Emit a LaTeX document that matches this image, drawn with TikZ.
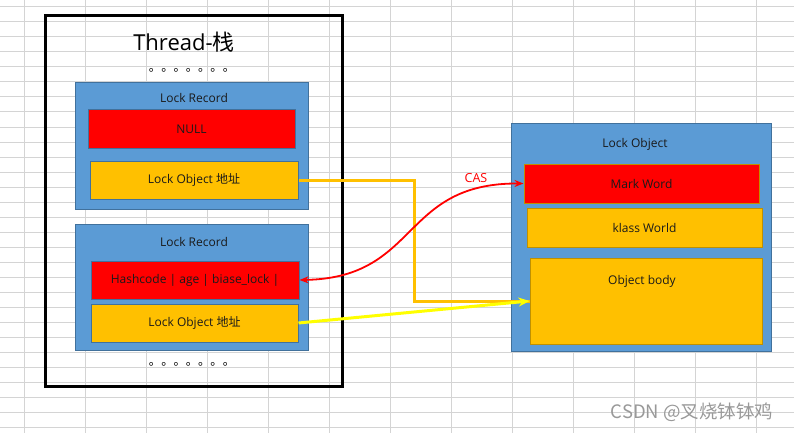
\documentclass[tikz,border=0pt]{standalone}
\usepackage{fontspec}
\setmainfont{Open Sans}
\newfontfamily\cjk{Noto Sans CJK SC}
\usetikzlibrary{arrows.meta}
\definecolor{cblue}{HTML}{5B9BD5}
\definecolor{cblueb}{HTML}{41719C}
\definecolor{cred}{HTML}{FF0000}
\definecolor{cyel}{HTML}{FFC000}
\definecolor{cbrown}{HTML}{BF9000}
\definecolor{cgrid}{HTML}{D4D4D4}
\definecolor{cyline}{HTML}{FFFF00}
\definecolor{ctext}{HTML}{1A1A1A}
\tikzset{
  box/.style={draw, line width=1pt, inner sep=0pt, text=ctext, font=\fontsize{12}{14}\selectfont},
  recbox/.style={box, fill=cblue, draw=cblueb},
  lredbox/.style={box, fill=cred, draw=cblueb},
  lyelbox/.style={box, fill=cyel, draw=cblueb},
  rredbox/.style={box, fill=cred, draw=cbrown},
  ryelbox/.style={box, fill=cyel, draw=cbrown},
  lbl/.style={inner sep=0pt, text=ctext, font=\fontsize{12}{14}\selectfont},
  dotsrow/.style={inner sep=0pt, font=\cjk\fontsize{12.3}{13}\selectfont},
}
\begin{document}
\begin{tikzpicture}[x=1pt,y=-1pt]
\useasboundingbox (0,0) rectangle (794,433);
\fill[white] (0,0) rectangle (794,433);
% grid
\foreach \x in {24,85,...,756} \draw[cgrid, line width=1pt] (\x,0) -- (\x,433);
\foreach \y in {7,22,...,427} \draw[cgrid, line width=1pt] (0,\y) -- (794,\y);

% thread stack
\node[draw=black, line width=3pt, minimum width=297pt, minimum height=370pt, inner sep=0pt] (thread) at (193.5,201) {};
\node[inner sep=0pt, font=\fontsize{22}{24}\selectfont] (title) at (184,42) {Thread-{\cjk 栈}};
\node[dotsrow] (dots1) at (192,70) {。。。。。。。};
\node[dotsrow] (dots2) at (192,364) {。。。。。。。};

\node[recbox, minimum width=233pt, minimum height=126pt] (lr1) at (191.5,146) {};
\node[lbl] (lr1l) at (194,98) {Lock Record};
\node[lredbox, minimum width=207pt, minimum height=38pt] (null) at (191.5,129) {NULL};
\node[lyelbox, minimum width=208pt, minimum height=38pt] (lo1) at (194,180) {Lock Object {\cjk 地址}};

\node[recbox, minimum width=233pt, minimum height=126pt] (lr2) at (191.5,287) {};
\node[lbl] (lr2l) at (194,242) {Lock Record};
\node[lredbox, minimum width=208pt, minimum height=38pt] (hash) at (195,280) {Hashcode | age | biase\_lock |};
\node[lyelbox, minimum width=207pt, minimum height=38pt] (lo2) at (194.5,323) {Lock Object {\cjk 地址}};

% lock object
\node[recbox, minimum width=260pt, minimum height=228pt] (lobj) at (641,237) {};
\node[lbl] (lobjl) at (635,144) {Lock Object};
\node[rredbox, minimum width=235pt, minimum height=39pt] (mark) at (641.5,183.5) {Mark Word};
\node[ryelbox, minimum width=235pt, minimum height=39pt] (klass) at (644.5,227.5) {klass World};
\node[ryelbox, minimum width=232pt, minimum height=86pt] (body) at (646,301) {};
\node[lbl] (bodyl) at (642,281) {Object body};

% connectors
\draw[cyel, line width=3pt] (lo1.east) -- ++(116,0) |- (body.west);
\draw[cyline, line width=3pt, -{Stealth[length=11pt,width=9pt]}] (lo2.east) -- (body.west);
\draw[cred, line width=1.8pt, {Stealth[length=9pt,width=7pt]}-{Stealth[length=9pt,width=7pt]}]
  (hash.east) .. controls (420,278) and (400,183) .. (mark.west);
\node[inner sep=0pt, text=cred, font=\fontsize{12.5}{14}\selectfont] (cas) at (476,178.5) {CAS};

% watermark
\node[inner sep=0pt, text=black!40, font=\cjk\fontsize{18.5}{20}\selectfont] (wm) at (692,412) {CSDN @叉烧钵钵鸡};
\end{tikzpicture}
\end{document}
